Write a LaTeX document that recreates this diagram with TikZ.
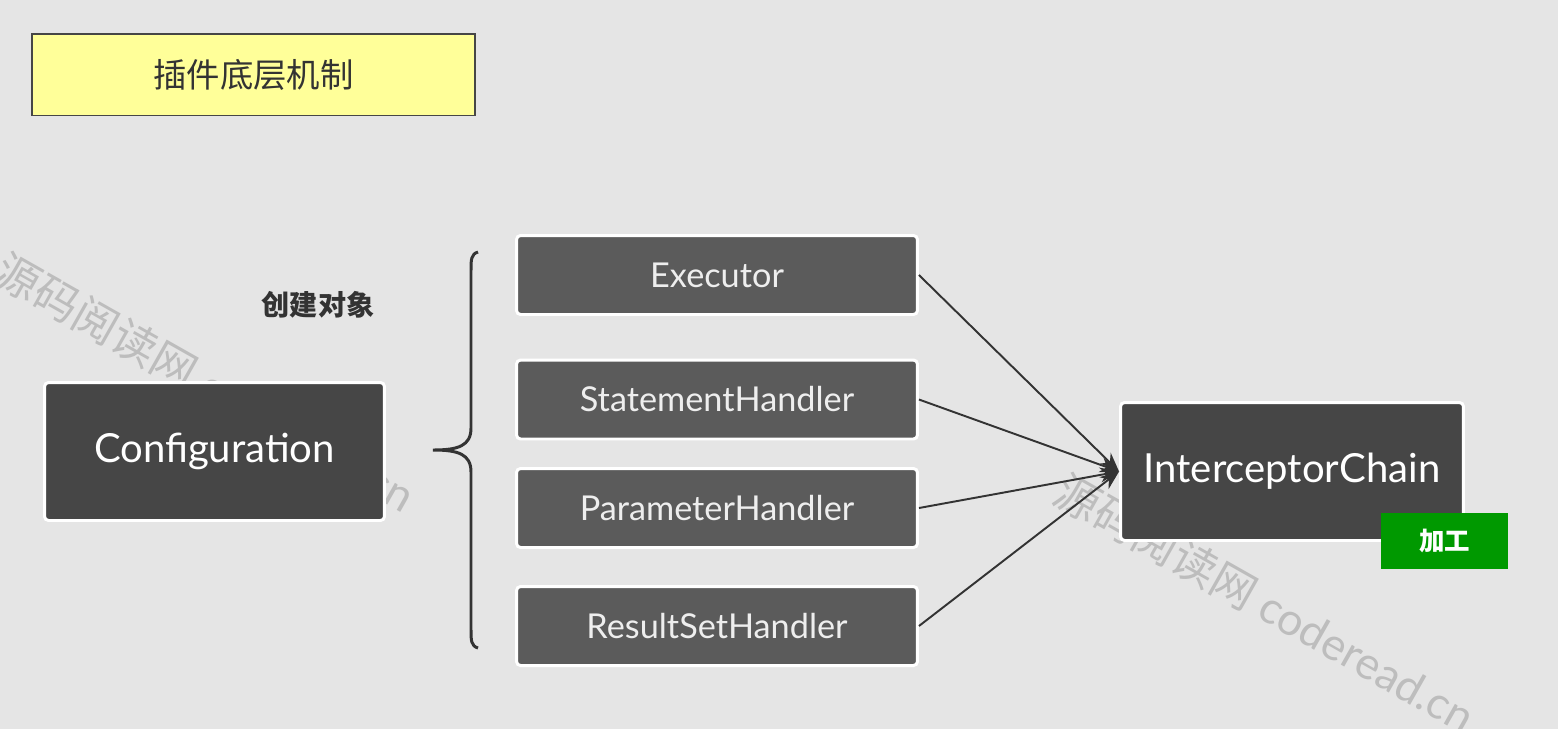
\documentclass[tikz,border=0pt]{standalone}
\usepackage{fontspec}
\setmainfont{Lato}
\newfontfamily\cjk{Noto Sans CJK SC}
\usetikzlibrary{arrows.meta}
\definecolor{paper}{HTML}{E5E5E5}
\definecolor{boxdark}{HTML}{464646}
\definecolor{boxmid}{HTML}{5B5B5B}
\definecolor{handtext}{HTML}{EEEEEE}
\definecolor{noteyellow}{HTML}{FFFF99}
\definecolor{tagreen}{HTML}{009900}
\definecolor{ink}{HTML}{333333}
\definecolor{wmark}{HTML}{BDBDBD}

\tikzset{
  objbox/.style={rectangle, inner sep=0, rounded corners=0.08cm, draw=white, line width=1.7pt,
    fill=boxdark, text=white, font=\fontsize{22.8}{27}\selectfont},
  handlerbox/.style={objbox, fill=boxmid, text=handtext, minimum width=8.02cm, minimum height=1.58cm,
    font=\fontsize{19.5}{23}\selectfont},
  notebox/.style={rectangle, inner sep=0, draw=boxdark, line width=0.85pt, fill=noteyellow, text=ink,
    minimum width=8.87cm, minimum height=1.63cm, font=\cjk\fontsize{19}{23}\selectfont},
  tagbox/.style={rectangle, inner sep=0, fill=tagreen, text=white, minimum width=2.54cm,
    minimum height=1.12cm, font=\cjk\bfseries\fontsize{14.5}{17}\selectfont},
  flow/.style={draw=ink, line width=1.1pt, -{Stealth[length=0.38cm,width=0.3cm]}},
  wmtext/.style={text=wmark, rotate=-29.5, inner sep=0, font=\fontsize{25.5}{30}\selectfont},
}

\begin{document}
\begin{tikzpicture}[x=0.02cm,y=-0.02cm]
\useasboundingbox (0,0) rectangle (1558,728);
\fill[paper] (-5,-5) rectangle (1563,733);

% watermarks, under everything
\node[wmtext] (wm1) at (205,382) {{\cjk 源码阅读网} coderead.cn};
\node[wmtext] (wm2) at (1265,603) {{\cjk 源码阅读网} coderead.cn};

\node[notebox] (title) at (253.5,74.5) {插件底层机制};

\node[objbox, minimum width=6.8cm, minimum height=2.76cm] (config) at (214.5,451.5) {Configuration};
\node[text=ink, font=\cjk\bfseries\fontsize{16}{19}\selectfont] (create) at (318,305) {创建对象};

% brace
\draw[ink, line width=1.7pt] (478,252) .. controls (471,254) and (471,260) .. (471,270) -- (471,428)
  .. controls (471,446) and (458,450) .. (433,450)
  .. controls (458,450) and (471,454) .. (471,472) -- (471,630)
  .. controls (471,640) and (471,646) .. (478,648);

\node[handlerbox] (exec) at (717,275) {Executor};
\node[handlerbox] (stmt) at (717,399.5) {StatementHandler};
\node[handlerbox] (param) at (717,508) {ParameterHandler};
\node[handlerbox] (rset) at (717,626) {ResultSetHandler};

\node[objbox, minimum width=6.86cm, minimum height=2.76cm] (chain) at (1292,471.5) {InterceptorChain};
\node[tagbox] (work) at (1444.5,541) {加工};

\foreach \src in {exec,stmt,param,rset}
  \draw[flow] (\src.east) -- (chain.west);
\end{tikzpicture}
\end{document}
